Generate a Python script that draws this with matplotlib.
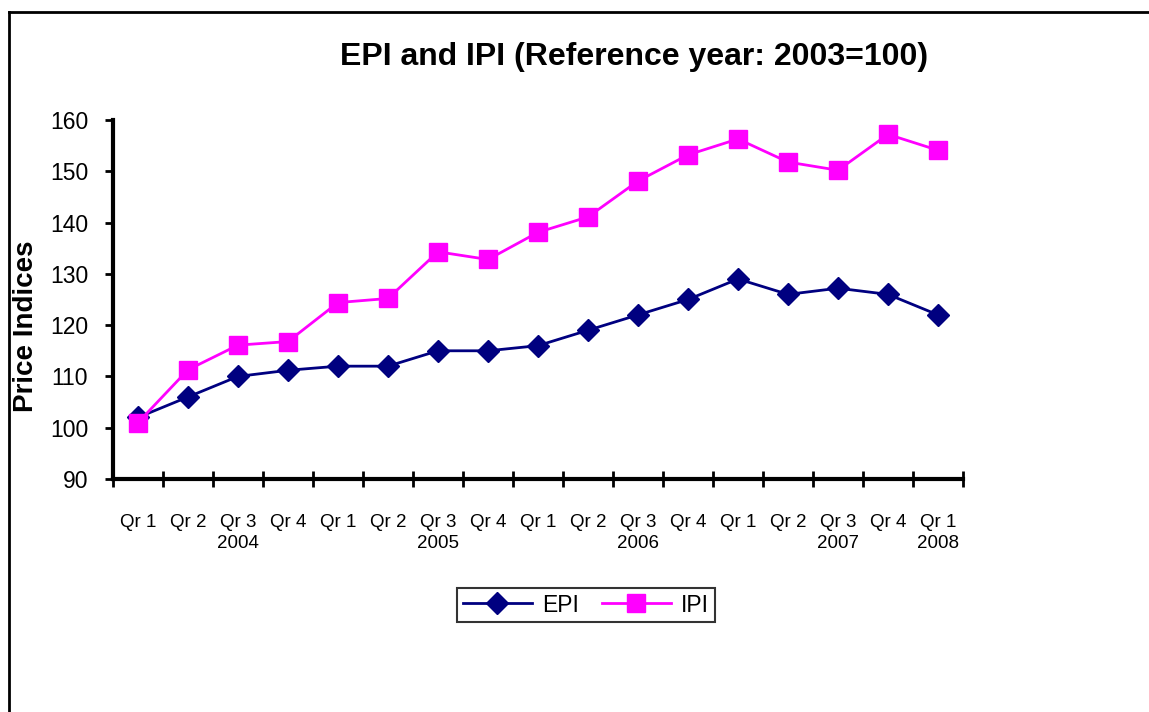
import matplotlib
matplotlib.use("Agg")
import matplotlib.pyplot as plt
from matplotlib.lines import Line2D

plt.rcParams['font.family'] = ['Liberation Sans', 'DejaVu Sans']

# data
quarters = ['Qr 1', 'Qr 2', 'Qr 3\n2004', 'Qr 4',
            'Qr 1', 'Qr 2', 'Qr 3\n2005', 'Qr 4',
            'Qr 1', 'Qr 2', 'Qr 3\n2006', 'Qr 4',
            'Qr 1', 'Qr 2', 'Qr 3\n2007', 'Qr 4',
            'Qr 1\n2008']
epi = [102, 106, 110, 111.2, 112, 112, 115, 115, 116, 119, 122, 125, 129, 126, 127.2, 126, 122]
ipi = [101, 111.3, 116.1, 116.8, 124.4, 125.2, 134.3, 132.8, 138.1, 141.1, 148.1, 153.2, 156.3, 151.8, 150.2, 157.2, 154.1]

W, H = 1149, 712
fig = plt.figure(figsize=(W / 100, H / 100), dpi=100)
ax = fig.add_axes([113 / W, 1 - 479 / H, (963 - 113) / W, (479 - 120) / H])

x = [i + 0.5 for i in range(len(quarters))]
ax.plot(x, epi, color='#000080', lw=2, marker='D', ms=11, label='EPI')
ax.plot(x, ipi, color='#FF00FF', lw=2, marker='s', ms=13, label='IPI')

ax.set_xlim(0, len(quarters))
ax.set_ylim(90, 160)
ax.set_yticks(range(90, 161, 10))
ax.tick_params(axis='y', direction='out', length=6, width=2, labelsize=16.5, pad=12)

ax.set_xticks(range(len(quarters) + 1))
ax.set_xticklabels([])
ax.set_xticks(x, minor=True)
ax.set_xticklabels(quarters, minor=True, fontsize=13.5, linespacing=1.3, va='top')
ax.tick_params(axis='x', which='major', direction='inout', length=11, width=2)
ax.tick_params(axis='x', which='minor', length=0, pad=25)

for s in ['top', 'right']:
    ax.spines[s].set_visible(False)
for s in ['left', 'bottom']:
    ax.spines[s].set_linewidth(3)

ax.set_ylabel('Price Indices', fontsize=20, fontweight='bold')
ax.yaxis.set_label_coords(-74 / (963 - 113), (479 - 326) / (479 - 120))

fig.text(634 / W, 1 - 57 / H, 'EPI and IPI (Reference year: 2003=100)',
         ha='center', va='center', fontsize=23, fontweight='bold')

leg = fig.legend(loc='center', bbox_to_anchor=(586 / W, 1 - 605 / H), ncol=2,
                 fontsize=16.5, frameon=True, fancybox=False, edgecolor='black',
                 handlelength=3.0, handletextpad=0.45, columnspacing=1.0,
                 borderpad=0.25, borderaxespad=0)
leg.get_frame().set_linewidth(1.5)

# outer chart frame (left and top edges visible)
fig.add_artist(Line2D([9 / W, 9 / W], [0, 1 - 12 / H], color='black', lw=2,
                      transform=fig.transFigure))
fig.add_artist(Line2D([9 / W, 1], [1 - 12 / H, 1 - 12 / H], color='black', lw=2,
                      transform=fig.transFigure))

fig.savefig('out.png', dpi=100)
